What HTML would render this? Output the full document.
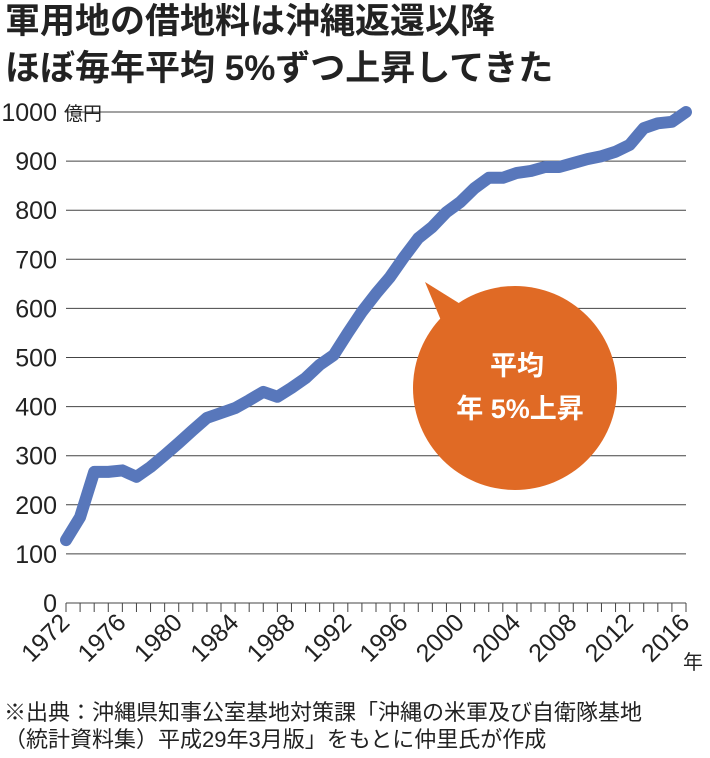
<!DOCTYPE html>
<html><head><meta charset="utf-8"><style>
body{margin:0;background:#fff;}
svg text{font-family:"Liberation Sans","Noto Sans CJK JP",sans-serif;}
</style></head><body>
<svg width="710" height="753" viewBox="0 0 710 753">
<text x="5" y="33" font-size="35" font-weight="bold" fill="#222">軍用地の借地料は沖縄返還以降</text>
<text x="5" y="80" font-size="35" font-weight="bold" fill="#222">ほぼ毎年平均 5%ずつ上昇してきた</text>
<g id="grid"></g>
<g id="ylabels"></g>
<text x="64" y="120" font-size="19" fill="#222">億円</text>
<g id="xaxis"></g>
<text x="683" y="669" font-size="20" fill="#222">年</text>
<path id="line" fill="none" stroke="#5877bb" stroke-width="12" stroke-linejoin="round" stroke-linecap="round"/>
<g>
<circle cx="515" cy="388" r="102" fill="#e06a25"/>
<polygon points="425,282 470,310 445,330" fill="#e06a25"/>
<text x="517" y="375" font-size="27" font-weight="bold" fill="#fff" text-anchor="middle">平均</text>
<text x="520" y="418" font-size="27" font-weight="bold" fill="#fff" text-anchor="middle">年 5%上昇</text>
</g>
<text x="4" y="720" font-size="22" fill="#222">※出典：沖縄県知事公室基地対策課「沖縄の米軍及び自衛隊基地</text>
<text x="4" y="747" font-size="22" fill="#222">（統計資料集）平成29年3月版」をもとに仲里氏が作成</text>
</svg>
<script>
const years=[1972,1973,1974,1975,1976,1977,1978,1979,1980,1981,1982,1983,1984,1985,1986,1987,1988,1989,1990,1991,1992,1993,1994,1995,1996,1997,1998,1999,2000,2001,2002,2003,2004,2005,2006,2007,2008,2009,2010,2011,2012,2013,2014,2015,2016];
const values=[128,175,267,267,270,257,277,301,326,352,377,387,397,413,430,420,438,458,485,505,550,593,630,664,705,743,766,796,817,845,866,866,876,880,888,888,896,904,910,919,933,967,977,980,1000];
const yTicks=[0,100,200,300,400,500,600,700,800,900,1000];
const xLabels=[1972,1976,1980,1984,1988,1992,1996,2000,2004,2008,2012,2016];
const NS="http://www.w3.org/2000/svg";
const x0=66,x1=686,y0=603,y1=112;
const xs=v=>x0+(v-1972)/(2016-1972)*(x1-x0);
const ys=v=>y0-v/1000*(y0-y1);
const grid=document.getElementById('grid'),yl=document.getElementById('ylabels'),xa=document.getElementById('xaxis');
yTicks.forEach(t=>{
  if(t>0){const l=document.createElementNS(NS,'line');
  
  
  l.setAttribute('x1',x0);l.setAttribute('x2',x1);l.setAttribute('y1',ys(t));l.setAttribute('y2',ys(t));
  l.setAttribute('stroke','#444');l.setAttribute('stroke-width','1');grid.appendChild(l);}
  const tx=document.createElementNS(NS,'text');
  
  
  tx.setAttribute('x',57);
  tx.setAttribute('text-anchor','end');
  tx.setAttribute('y',ys(t)+9);tx.setAttribute('font-size','25');tx.setAttribute('fill','#222');
  tx.textContent=t;yl.appendChild(tx);
});
const ax=document.createElementNS(NS,'line');


ax.setAttribute('x1',x0);ax.setAttribute('x2',x1);ax.setAttribute('y1',y0);ax.setAttribute('y2',y0);ax.setAttribute('stroke','#444');xa.appendChild(ax);
years.forEach(y=>{
  const t=document.createElementNS(NS,'line');
  
  
  t.setAttribute('x1',xs(y));t.setAttribute('x2',xs(y));t.setAttribute('y1',y0);t.setAttribute('y2',y0+9);t.setAttribute('stroke','#444');xa.appendChild(t);
});
xLabels.forEach(y=>{
  const tx=document.createElementNS(NS,'text');
  
  
  const px=xs(y)+5,py=624;
  tx.setAttribute('x',px);tx.setAttribute('y',py);tx.setAttribute('text-anchor','end');
  tx.setAttribute('font-size','25');tx.setAttribute('fill','#222');
  tx.setAttribute('transform','rotate(-45 '+px+' '+py+')');
  tx.textContent=y;xa.appendChild(tx);
});
document.getElementById('line').setAttribute('d',years.map((y,i)=>(i?'L':'M')+xs(y)+','+ys(values[i])).join(' '));
</script>
</body></html>
